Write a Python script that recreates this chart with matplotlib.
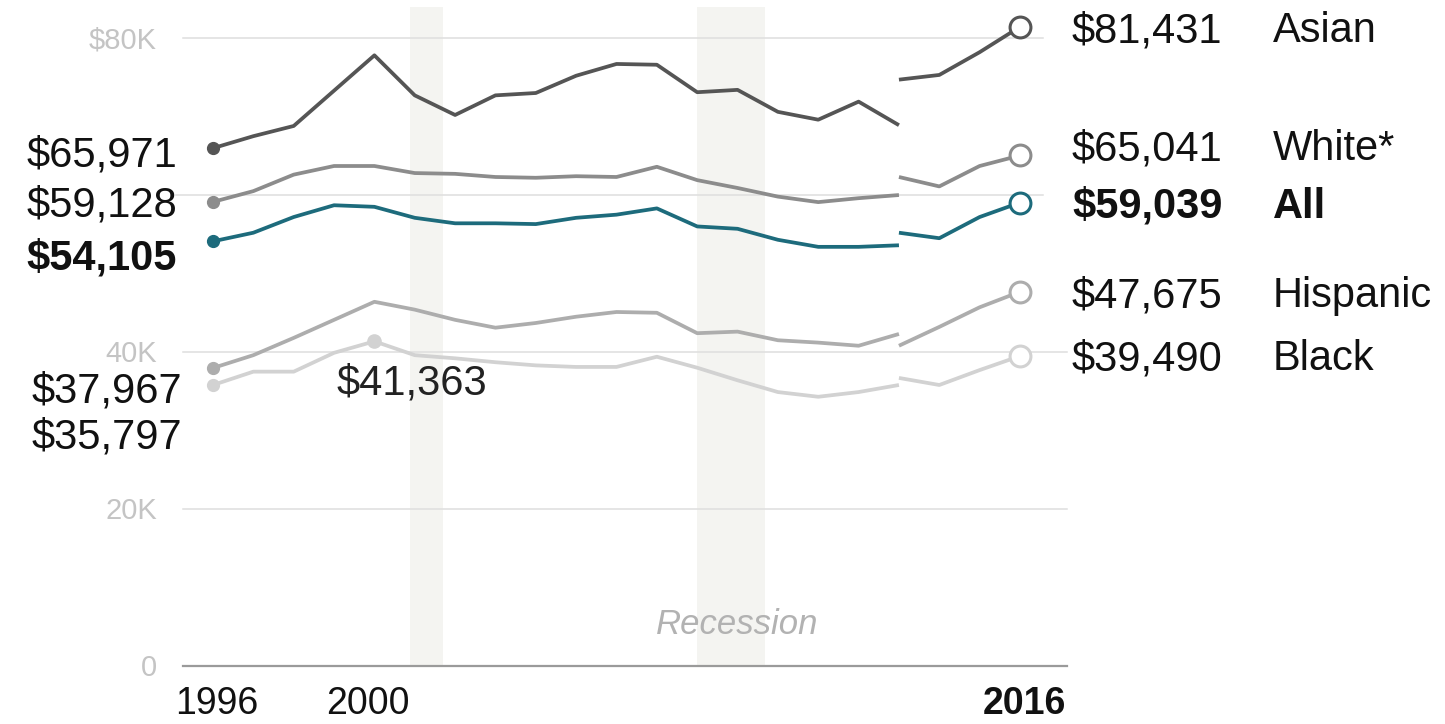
import numpy as np
import matplotlib
matplotlib.use("Agg")
import matplotlib.pyplot as plt

plt.rcParams["font.family"] = ["Liberation Sans", "DejaVu Sans"]

# median household income, two series pieces split at the 2013 redesign
years_old = list(range(1996, 2014))
years_new = [2013, 2014, 2015, 2016]

asian_old = [65971, 67500, 68800, 73300, 77800, 72700, 70200, 72700, 73000,
             75200, 76700, 76600, 73100, 73400, 70600, 69600, 71900, 68900]
asian_new = [74700, 75300, 78200, 81431]

white_old = [59128, 60500, 62600, 63700, 63700, 62800, 62700, 62300, 62200,
             62400, 62300, 63600, 61900, 60900, 59800, 59100, 59600, 60000]
white_new = [62300, 61100, 63700, 65041]

all_old = [54105, 55200, 57200, 58700, 58500, 57100, 56400, 56400, 56300,
           57100, 57500, 58300, 56000, 55700, 54300, 53400, 53400, 53600]
all_new = [55200, 54500, 57200, 59039]

hisp_old = [37967, 39600, 41800, 44100, 46400, 45400, 44100, 43100, 43700,
            44500, 45100, 45000, 42400, 42600, 41500, 41200, 40800, 42300]
hisp_new = [40800, 43200, 45700, 47675]

black_old = [35797, 37500, 37500, 39900, 41363, 39600, 39200, 38700, 38300,
             38100, 38100, 39400, 38000, 36400, 34900, 34300, 34900, 35800]
black_new = [36700, 35800, 37700, 39490]

recessions = [(2000.88, 2001.70), (2008.0, 2009.68)]
grid_vals = [0, 20000, 40000, 60000, 80000]
grid_labels = ["0", "20K", "40K", "", "$80K"]

names = ["Asian", "White*", "All", "Hispanic", "Black"]
colors = ["#555555", "#8c8c8c", "#1d6b7c", "#adadad", "#d2d2d2"]


# pixel helpers for placing annotations
def px2x(p):
    return 1996 + (p - 213) / 40.35


def px2y(p):
    return (666 - p) * 127.4


fig = plt.figure(figsize=(14.45, 7.24), dpi=100)
ax = fig.add_axes([0, 0, 1, 1])
ax.set_xlim(px2x(0), px2x(1445))
ax.set_ylim(px2y(724), px2y(0))
ax.axis("off")

for a, b in recessions:
    ax.fill_between([a, b], 0, px2y(7), color="#f4f4f1", lw=0, zorder=0)

for v, lab in zip(grid_vals, grid_labels):
    right = 1043 if v >= 60000 else 1067
    if v == 0:
        ax.plot([px2x(183), px2x(right)], [v, v], color="#9a9a9a", lw=1.6, zorder=1)
    else:
        left = 176 if v == 60000 else 183
        ax.plot([px2x(left), px2x(right)], [v, v], color="#dedede", lw=1.1, zorder=1)
    if lab:
        ax.text(px2x(157), v - 2.0 * 127.4, lab, ha="right", va="center",
                fontsize=21, color="#c4c4c4")

series = [(asian_old, asian_new), (white_old, white_new), (all_old, all_new),
          (hisp_old, hisp_new), (black_old, black_new)]
for (old, new), c in zip(series, colors):
    ax.plot(years_old, old, color=c, lw=2.7, solid_capstyle="butt", zorder=3)
    ax.plot(years_new, new, color=c, lw=2.7, solid_capstyle="butt", zorder=3)
    ax.plot(years_old[0], old[0], "o", color=c, ms=8.5, zorder=4)
    ax.plot(years_new[-1], new[-1], "o", mfc="white", mec=c, mew=2.2, ms=15, zorder=4)

# black peak in 2000
ax.plot(2000, black_old[4], "o", color=colors[4], ms=9.5, zorder=4)
ax.text(px2x(337), px2y(394), "$41,363", ha="left", va="baseline", fontsize=30,
        color="#222222")

# left labels (1996)
left_lab = [("$65,971", 151, 177, "normal"), ("$59,128", 201, 177, "normal"),
            ("$54,105", 254, 177, "bold"), ("$37,967", 388, 182, "normal"),
            ("$35,797", 434, 182, "normal")]
for s, cy, rx, w in left_lab:
    ax.text(px2x(rx), px2y(cy + 15), s, ha="right", va="baseline", fontsize=30,
            fontweight=w, color="#111111")

# right labels (2016)
right_y = [27, 145, 203, 292, 355]
for n, (old, new), cy in zip(names, series, right_y):
    w = "bold" if n == "All" else "normal"
    ax.text(px2x(1072), px2y(cy + 15), f"${new[-1]:,}", ha="left", va="baseline",
            fontsize=30, fontweight=w, color="#111111")
    ax.text(px2x(1273), px2y(cy + 15), n, ha="left", va="baseline",
            fontsize=30, fontweight=w, color="#111111")

# year labels
for s, cx, w in [("1996", 217, "normal"), ("2000", 368, "normal"), ("2016", 1024, "bold")]:
    ax.text(px2x(cx), px2y(714), s, ha="center", va="baseline", fontsize=27,
            fontweight=w, color="#111111")

ax.text(px2x(737), px2y(634), "Recession", ha="center", va="baseline",
        fontsize=25, style="italic", color="#b2b2b2")

fig.savefig("out.png", dpi=100)
